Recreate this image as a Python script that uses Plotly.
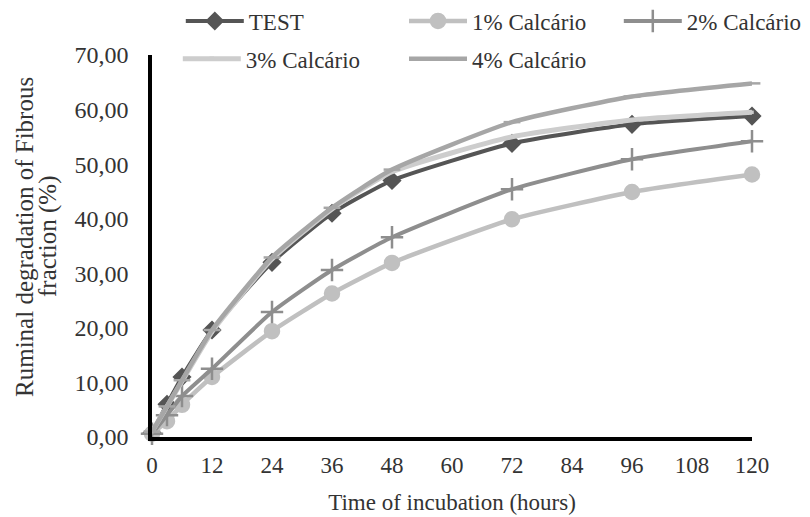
import plotly.graph_objects as go

hours = [0, 3, 6, 12, 24, 36, 48, 72, 96, 120]
test = [0.8, 6.0, 11.0, 19.6, 32.0, 41.0, 47.0, 53.8, 57.3, 58.8]
calc1 = [0.6, 2.9, 5.9, 11.0, 19.4, 26.3, 31.9, 39.9, 44.9, 48.1]
calc2 = [0.6, 4.0, 7.5, 12.5, 22.9, 30.6, 36.6, 45.4, 50.9, 54.2]
calc3 = [1.0, 5.6, 10.2, 19.3, 32.6, 41.8, 48.6, 55.0, 58.1, 59.5]
calc4 = [1.0, 5.6, 10.4, 19.6, 32.9, 42.0, 49.0, 57.7, 62.4, 64.8]
names = ["TEST", "1% Calcário", "2% Calcário", "3% Calcário", "4% Calcário"]
xticks = [0, 12, 24, 36, 48, 60, 72, 84, 96, 108, 120]
yticks = [0, 10, 20, 30, 40, 50, 60, 70]
ytitle_lines = ["Ruminal degradation of Fibrous", "fraction (%)"]

FONT = "Liberation Serif"
TXT = "#333333"
FS = 23

styles = [
    dict(color="#555555", width=4, symbol="diamond", msize=12, legend="legend"),
    dict(color="#c0c0c0", width=4.5, symbol="circle", msize=14, legend="legend2"),
    dict(color="#8e8e8e", width=4, symbol="cross-thin", msize=16, legend="legend3"),
    dict(color="#cdcdcd", width=5, symbol="square", msize=1, legend="legend4"),
    dict(color="#a6a6a6", width=4.5, symbol="line-ew", msize=12, legend="legend5"),
]
# legend anchor positions (paper coords)
leg_pos = [(0.048, 1.089), (0.42, 1.089), (0.778, 1.089), (0.043, 0.99), (0.42, 0.99)]
series = [test, calc1, calc2, calc3, calc4]

fig = go.Figure()
for name, ys, st in zip(names, series, styles):
    fig.add_trace(go.Scatter(
        x=hours, y=ys, name=name, mode="lines+markers",
        line=dict(color=st["color"], width=st["width"], shape="spline", smoothing=0.5),
        marker=dict(symbol=st["symbol"], size=st["msize"], color=st["color"],
                    line=dict(color=st["color"], width=2.5)),
        legend=st["legend"], cliponaxis=False,
    ))

legends = {}
for i, (lx, ly) in enumerate(leg_pos):
    key = "legend" if i == 0 else f"legend{i+1}"
    legends[key] = dict(orientation="h", x=lx, y=ly, xanchor="left", yanchor="middle",
                        font=dict(family=FONT, size=23, color=TXT),
                        bgcolor="rgba(0,0,0,0)", itemwidth=58)

# page body has an 8px default margin: compensate so the plot lands where intended
fig.update_layout(
    width=802, height=509,
    margin=dict(l=144, r=58, t=47, b=80, autoexpand=False),
    paper_bgcolor="white", plot_bgcolor="white",
    separators=",.",
    font=dict(family=FONT, size=FS, color=TXT),
    showlegend=True,
    **legends,
    xaxis=dict(range=[0, 120], tickvals=xticks, showgrid=False, zeroline=False,
               showline=True, linecolor="black", linewidth=3.5, ticks="",
               ticklabelstandoff=5,
               tickfont=dict(family=FONT, size=FS, color=TXT),
               title=dict(text="Time of incubation (hours)", standoff=18,
                          font=dict(family=FONT, size=FS, color=TXT))),
    yaxis=dict(range=[0, 70], tickvals=yticks, tickformat=".2f", showgrid=False,
               zeroline=False, showline=True, linecolor="black", linewidth=3.5,
               ticks="", ticklabelstandoff=15,
               tickfont=dict(family=FONT, size=24, color=TXT)),
)

for txt, xp in zip(ytitle_lines, [-0.2117, -0.1733]):
    fig.add_annotation(text=txt, xref="paper", yref="paper", x=xp, y=0.5236,
                       xanchor="center", yanchor="middle", textangle=-90,
                       showarrow=False, font=dict(family=FONT, size=25, color=TXT))

fig.write_html("out.html")
